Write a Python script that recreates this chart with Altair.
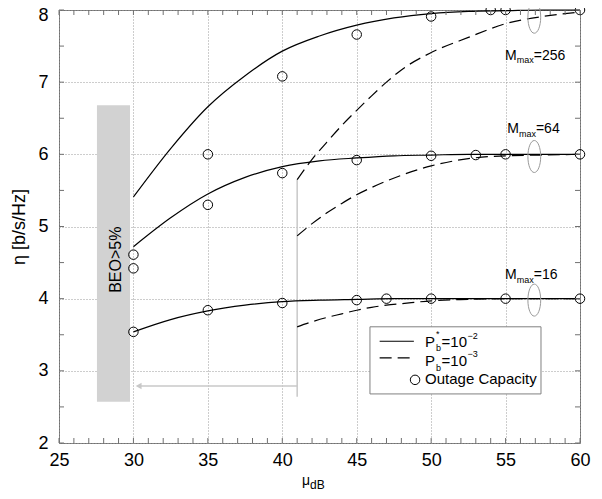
import altair as alt
import pandas as pd

FONT = "Liberation Sans"
W, H = 521, 433

# ---- data ----
x_solid = [30, 32.5, 35, 37.5, 40, 42.5, 45, 47.5, 50, 52.5, 55, 57.5, 60]
eta_solid_256 = [5.41, 6.08, 6.66, 7.09, 7.43, 7.64, 7.79, 7.89, 7.95, 7.98, 7.99, 8.0, 8.0]
eta_solid_64 = [4.72, 5.12, 5.45, 5.68, 5.83, 5.91, 5.95, 5.98, 5.99, 6.0, 6.0, 6.0, 6.0]
eta_solid_16 = [3.54, 3.71, 3.83, 3.91, 3.96, 3.98, 3.99, 4.0, 4.0, 4.0, 4.0, 4.0, 4.0]

x_dashed = [41, 42, 43, 44, 45, 46, 47, 48, 50, 52.5, 55, 57.5, 60]
eta_dashed_256 = [5.65, 5.93, 6.17, 6.40, 6.61, 6.81, 7.0, 7.17, 7.41, 7.62, 7.81, 7.91, 7.97]
eta_dashed_64 = [4.87, 5.04, 5.19, 5.32, 5.44, 5.54, 5.63, 5.71, 5.84, 5.94, 5.98, 5.99, 6.0]
eta_dashed_16 = [3.61, 3.68, 3.74, 3.79, 3.84, 3.88, 3.91, 3.93, 3.97, 3.99, 4.0, 4.0, 4.0]

oc_x_256 = [30, 35, 40, 45, 50, 54, 55, 60]
oc_256 = [4.61, 6.0, 7.08, 7.66, 7.91, 8.0, 8.0, 8.0]
oc_x_64 = [30, 35, 40, 45, 50, 53, 55, 60]
oc_64 = [4.42, 5.30, 5.74, 5.92, 5.98, 5.99, 6.0, 6.0]
oc_x_16 = [30, 35, 40, 45, 47, 50, 55, 60]
oc_16 = [3.54, 3.84, 3.94, 3.98, 4.0, 4.0, 4.0, 4.0]

x_tick_labels = [25, 30, 35, 40, 45, 50, 55, 60]
y_tick_labels = [2, 3, 4, 5, 6, 7, 8]
x_minor = list(range(25, 61))
y_minor = [2 + 0.5 * i for i in range(13)]

# annotation: region, arrow, ellipses
beo_box = {"mu": 27.55, "mu2": 29.77, "eta": 2.57, "eta2": 6.68}
beo_label = {"mu": 28.82, "eta": 4.54, "text": "BEO>5%"}
guide_vertical = {"mu": 41.0, "eta": 2.64, "eta2": 5.65}
guide_horizontal = {"mu": 30.4, "mu2": 41.0, "eta": 2.79}
arrow_head = {"mu": 30.35, "eta": 2.79}
ellipse_mu = [56.93, 56.93, 56.93]
ellipse_eta = [7.90, 5.97, 3.98]

# text pieces: (mu, eta, text, font size)
label_pieces = [
    (54.96, 7.31, "M", 14), (55.75, 7.26, "max", 9), (56.90, 7.31, "=256", 14),
    (55.11, 6.29, "M", 14), (55.90, 6.245, "max", 9), (57.04, 6.29, "=64", 14),
    (54.96, 4.27, "M", 14), (55.75, 4.22, "max", 9), (56.90, 4.27, "=16", 14),
    (41.32, 1.42, "μ", 14), (41.86, 1.36, "dB", 12),
]
legend_box = {"mu": 45.89, "mu2": 57.38, "eta": 2.68, "eta2": 3.61}
legend_solid = {"mu": 46.54, "mu2": 48.84, "eta": 3.41}
legend_dashed = {"mu": 46.54, "mu2": 48.84, "eta": 3.18}
legend_circle = {"mu": 48.92, "eta": 2.875}
legend_pieces = [
    (49.59, 3.33, "P", 15), (50.32, 3.27, "b", 9), (50.32, 3.47, "*", 9),
    (50.70, 3.33, "=10", 15), (52.44, 3.44, "−2", 9),
    (49.59, 3.07, "P", 15), (50.32, 3.00, "b", 9),
    (50.70, 3.07, "=10", 15), (52.44, 3.19, "−3", 9),
    (49.59, 2.815, "Outage Capacity", 15),
]

# ---- tables ----
def series(xv, yv, name):
    return pd.DataFrame({"mu": xv, "eta": yv, "series": name})

solid_df = pd.concat([series(x_solid, eta_solid_256, "256"),
                      series(x_solid, eta_solid_64, "64"),
                      series(x_solid, eta_solid_16, "16")])
dashed_df = pd.concat([series(x_dashed, eta_dashed_256, "256"),
                       series(x_dashed, eta_dashed_64, "64"),
                       series(x_dashed, eta_dashed_16, "16")])
oc_df = pd.concat([series(oc_x_256, oc_256, "256"),
                   series(oc_x_64, oc_64, "64"),
                   series(oc_x_16, oc_16, "16")])
ell_df = pd.DataFrame({"mu": ellipse_mu, "eta": ellipse_eta})
lab_df = pd.DataFrame(label_pieces, columns=["mu", "eta", "text", "fs"])
leg_df = pd.DataFrame(legend_pieces, columns=["mu", "eta", "text", "fs"])

xscale = alt.Scale(domain=[25, 60], nice=False, zero=False)
yscale = alt.Scale(domain=[2, 8], nice=False, zero=False)
xaxis = alt.Axis(values=x_tick_labels, title=None, grid=True, gridDash=[1, 2],
                 gridColor="#9a9a9a", gridWidth=1, domain=False, ticks=False, tickSize=0,
                 labelFont=FONT, labelFontSize=18, labelColor="black", labelPadding=8,
                 labelFlush=False, labelOverlap=False)
yaxis = alt.Axis(values=y_tick_labels, title="η [b/s/Hz]", titleFont=FONT, titleFontSize=18,
                 titleFontWeight="normal", titleColor="black", titlePadding=9,
                 grid=True, gridDash=[1, 2], gridColor="#9a9a9a", gridWidth=1,
                 domain=False, ticks=False, tickSize=0,
                 labelFont=FONT, labelFontSize=18, labelColor="black", labelPadding=11,
                 labelOffset={"condition": {"test": "datum.value == 8", "value": 5}, "value": 0},
                 labelFlush=False, labelOverlap=False)
X = alt.X("mu:Q", scale=xscale, axis=xaxis)
Y = alt.Y("eta:Q", scale=yscale, axis=yaxis)

def one(d):
    return pd.DataFrame([d])

GREY = "#c8c8c8"

box = alt.Chart(one(beo_box)).mark_rect(color="#d2d2d2").encode(
    x=X, x2="mu2:Q", y=Y, y2="eta2:Q")
beo_text = alt.Chart(one(beo_label)).mark_text(
    angle=270, font=FONT, fontSize=16, align="center", baseline="middle", color="black"
).encode(x=X, y=Y, text="text:N")
vline = alt.Chart(one(guide_vertical)).mark_rule(color=GREY, strokeWidth=1.5).encode(
    x=X, y=Y, y2="eta2:Q")
hline = alt.Chart(one(guide_horizontal)).mark_rule(color=GREY, strokeWidth=1.5).encode(
    x=X, x2="mu2:Q", y=Y)
head = alt.Chart(one(arrow_head)).mark_point(
    shape="triangle-left", filled=True, color=GREY, size=45, opacity=1).encode(x=X, y=Y)

solid = alt.Chart(solid_df).mark_line(color="black", strokeWidth=1.2,
                                      interpolate="monotone").encode(
    x=X, y=Y, detail="series:N")
dashed = alt.Chart(dashed_df).mark_line(color="black", strokeWidth=1.2, strokeDash=[12, 6],
                                        interpolate="monotone").encode(
    x=X, y=Y, detail="series:N")
circles = alt.Chart(oc_df).mark_point(shape="circle", size=90, color="black",
                                      strokeWidth=1, filled=False, opacity=1).encode(x=X, y=Y)
ellipses = alt.Chart(ell_df).mark_point(
    shape="M0,-1A0.4,1,0,1,1,0,1A0.4,1,0,1,1,0,-1Z", size=1024, color="#9a9a9a",
    strokeWidth=1, filled=False, opacity=1).encode(x=X, y=Y)
labels = alt.Chart(lab_df).mark_text(font=FONT, align="left", baseline="alphabetic",
                                     color="black").encode(
    x=X, y=Y, text="text:N", size=alt.Size("fs:Q", scale=None, legend=None))

leg_box = alt.Chart(one(legend_box)).mark_rect(fill="white", stroke="#808080",
                                               strokeWidth=1).encode(
    x=X, x2="mu2:Q", y=Y, y2="eta2:Q")
leg_solid = alt.Chart(one(legend_solid)).mark_rule(color="black", strokeWidth=1.2).encode(
    x=X, x2="mu2:Q", y=Y)
leg_dashed = alt.Chart(one(legend_dashed)).mark_rule(color="black", strokeWidth=1.2,
                                                     strokeDash=[12, 6]).encode(
    x=X, x2="mu2:Q", y=Y)
leg_circle = alt.Chart(one(legend_circle)).mark_point(shape="circle", size=90, color="black",
                                                      strokeWidth=1, filled=False,
                                                      opacity=1).encode(x=X, y=Y)
leg_text = alt.Chart(leg_df).mark_text(font=FONT, align="left", baseline="alphabetic",
                                       color="black").encode(
    x=X, y=Y, text="text:N", size=alt.Size("fs:Q", scale=None, legend=None))

# inward ticks on all four sides
TICK = "#707070"
xt = pd.DataFrame({"mu": x_minor})
yt = pd.DataFrame({"eta": y_minor})
tick_b = alt.Chart(xt).mark_rule(color=TICK).encode(x=X, y=alt.value(H), y2=alt.value(H - 5))
tick_t = alt.Chart(xt).mark_rule(color=TICK).encode(x=X, y=alt.value(0), y2=alt.value(5))
tick_l = alt.Chart(yt).mark_rule(color=TICK).encode(y=Y, x=alt.value(0), x2=alt.value(5))
tick_r = alt.Chart(yt).mark_rule(color=TICK).encode(y=Y, x=alt.value(W), x2=alt.value(W - 5))

chart = alt.layer(
    box, vline, hline, head, solid, dashed, circles, ellipses, beo_text, labels,
    leg_box, leg_solid, leg_dashed, leg_circle, leg_text,
    tick_b, tick_t, tick_l, tick_r,
).properties(
    width=W, height=H, autosize="none",
    padding={"left": 51, "top": 2, "right": 12, "bottom": 48},
    background="white",
).configure_view(stroke="#707070", strokeWidth=1)

chart.save("out.html", embed_options={"renderer": "svg", "actions": False})
